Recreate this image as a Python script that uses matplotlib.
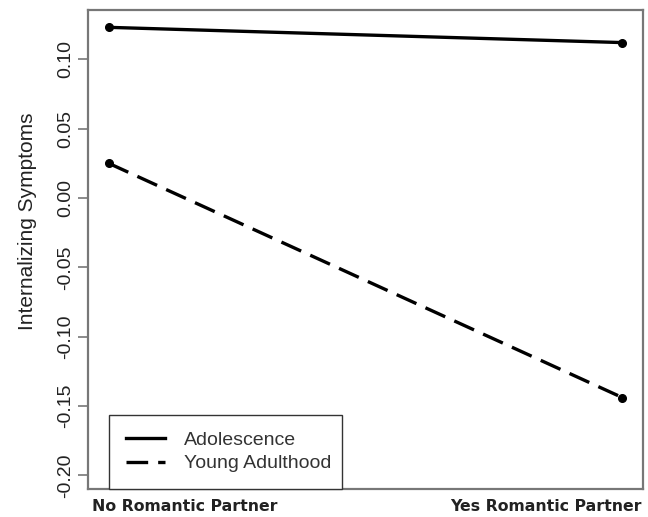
import numpy as np
import matplotlib.pyplot as plt
from matplotlib.transforms import ScaledTranslation

# data
partner = ["No Romantic Partner", "Yes Romantic Partner"]
x_pos = [1, 2]
adolescence = [0.123, 0.112]
young_adult = [0.025, -0.144]
y_ticks = [-0.20, -0.15, -0.10, -0.05, 0.00, 0.05, 0.10]

plt.rcParams['font.family'] = ['Liberation Sans', 'DejaVu Sans']
fig = plt.figure(figsize=(6.48, 5.17), dpi=100)
ax = fig.add_axes([88/648, 1-489/517, 555/648, 479/517])

ax.plot(x_pos, adolescence, color='black', lw=2.4, marker='o', ms=5.5,
        label='Adolescence')
ax.plot(x_pos, young_adult, color='black', lw=2.4, marker='o', ms=5.5,
        dashes=(6.5, 3), label='Young Adulthood')

ax.set_xlim(0.96, 2.04)
ax.set_ylim(-0.2099, 0.1355)
ax.set_yticks(y_ticks)
ax.set_yticklabels([f"{v:.2f}" for v in y_ticks], rotation=90, va='center',
                   fontsize=14, color='#222222')
ax.tick_params(axis='y', length=7, width=1.2, color='#777777', pad=3)

ax.set_xticks(x_pos)
ax.set_xticklabels(partner, fontsize=11.3, fontweight='bold',
                   family='DejaVu Sans', color='#222222')
ax.tick_params(axis='x', length=0, pad=7)
labs = ax.get_xticklabels()
labs[0].set_ha('left')
labs[0].set_transform(labs[0].get_transform() +
                      ScaledTranslation(-17/100, 0, fig.dpi_scale_trans))
labs[1].set_ha('right')
labs[1].set_transform(labs[1].get_transform() +
                      ScaledTranslation(19/100, 0, fig.dpi_scale_trans))

ax.set_ylabel('Internalizing Symptoms', fontsize=15, color='#222222')
ax.yaxis.set_label_coords(-0.092, 0.56)

for s in ax.spines.values():
    s.set_color('#777777')
    s.set_linewidth(1.6)

leg = ax.legend(loc='lower left', bbox_to_anchor=(0.038, 0.0, 0.42, 0.152),
                mode='expand', borderaxespad=0, fontsize=14, handlelength=2.05,
                handletextpad=0.95, borderpad=0.85, labelspacing=0.3,
                fancybox=False, framealpha=1, edgecolor='#333333')
leg.get_frame().set_linewidth(1.0)
for h in leg.get_lines():
    h.set_marker('')
for t in leg.get_texts():
    t.set_color('#333333')

fig.savefig('out.png', dpi=100)
